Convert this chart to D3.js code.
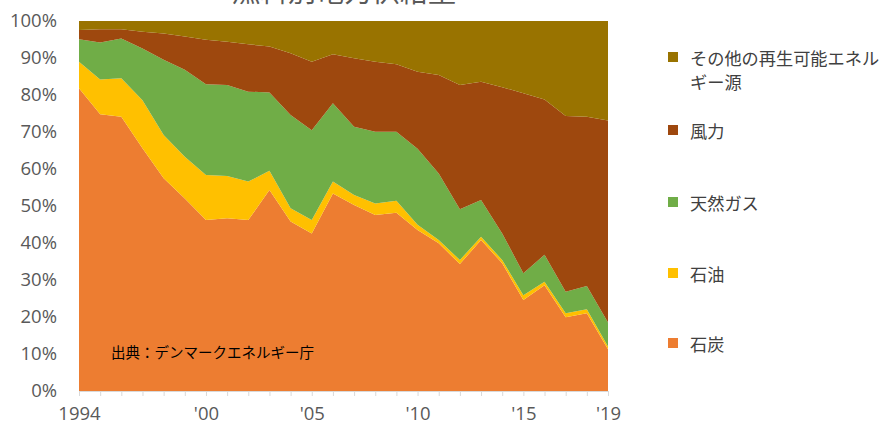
<!DOCTYPE html>
<html>
<head>
<meta charset="utf-8">
<script src="https://cdn.jsdelivr.net/npm/d3@7"></script>
<style>
  html, body { margin: 0; padding: 0; background: #fff; }
  svg { display: block; }
</style>
</head>
<body>
<svg id="chart" width="881" height="427"></svg>
<script>
const title = "燃料別電力供給量";
const source = "出典：デンマークエネルギー庁";
const years = [1994,1995,1996,1997,1998,1999,2000,2001,2002,2003,2004,2005,2006,2007,2008,2009,2010,2011,2012,2013,2014,2015,2016,2017,2018,2019];
const coal  = [81.8,74.8,74.1,65.6,57.5,52.0,46.2,46.7,46.2,54.3,45.8,42.6,53.4,50.3,47.6,48.2,43.5,39.9,34.3,40.8,34.5,24.6,28.6,19.9,21.0,11.3];
const oil   = [7.2,9.4,10.4,13.0,11.7,11.3,12.2,11.4,10.4,5.2,3.6,3.6,3.2,2.7,3.1,3.2,1.4,0.9,1.1,0.9,0.9,1.3,0.9,1.1,1.1,0.7];
const gas   = [6.1,10.0,10.8,14.0,20.3,23.5,24.5,24.6,24.3,21.2,25.2,24.3,21.2,18.4,19.4,18.7,20.6,18.0,13.7,9.9,7.2,5.9,7.3,5.8,6.3,6.5];
const wind  = [2.5,3.6,2.5,4.5,7.1,9.0,12.0,11.7,12.8,12.4,16.7,18.5,13.2,18.5,18.9,18.2,20.8,26.6,33.6,32.0,39.5,48.7,42.0,47.5,45.7,54.6];
const other = [2.4,2.2,2.2,2.9,3.4,4.2,5.1,5.6,6.3,6.9,8.7,11.0,9.0,10.1,11.0,11.7,13.7,14.6,17.3,16.4,17.9,19.5,21.2,25.7,25.9,26.9];
const seriesKeys = ["coal","oil","gas","wind","other"];
const seriesNames = ["石炭","石油","天然ガス","風力","その他の再生可能エネルギー源"];
const seriesColors = ["#ED7D31","#FFC000","#70AD47","#9E480E","#997300"];
const yTicks = [0,10,20,30,40,50,60,70,80,90,100];
const xLabelYears = [1994,2000,2005,2010,2015,2019];
const xLabels = ["1994","'00","'05","'10","'15","'19"];
const legendOrder = ["other","wind","gas","oil","coal"];
const legendLines = {other:["その他の再生可能エネル","ギー源"], wind:["風力"], gas:["天然ガス"], oil:["石油"], coal:["石炭"]};

const vals = {coal, oil, gas, wind, other};
const rows = years.map((y,i) => {
  const r = {year: y};
  seriesKeys.forEach(k => r[k] = vals[k][i]);
  return r;
});

const svg = d3.select("#chart");
const m = {left: 79, right: 273, top: 21, bottom: 36};
const W = 881, H = 427;
const x = d3.scaleLinear().domain([1994, 2019]).range([m.left, W - m.right]);
const y = d3.scaleLinear().domain([0, 100]).range([H - m.bottom, m.top]);

const stack = d3.stack().keys(seriesKeys);
const layers = stack(rows);
const area = d3.area()
  .x(d => x(d.data.year))
  .y0(d => y(d[0]))
  .y1(d => y(d[1]));

svg.append("g").selectAll("path").data(layers).join("path")
  .attr("d", area)
  .attr("fill", (d,i) => seriesColors[i]);

// title (cut off at top, as in the reference)
svg.append("text")
  .attr("x", 344).attr("y", 2)
  .attr("text-anchor", "middle")
  .attr("font-family", "'Noto Sans CJK JP', sans-serif")
  .attr("font-size", 28)
  .attr("fill", "#595959")
  .text(title);

// y axis labels
const yAxis = d3.axisLeft(y).tickValues(yTicks).tickFormat(d => d + "%").tickSize(0).tickPadding(22);
const gy = svg.append("g").attr("transform", `translate(${m.left},0)`).call(yAxis);
gy.select(".domain").remove();
gy.selectAll("text")
  .attr("font-family", "'Open Sans', sans-serif")
  .attr("font-size", 18.5)
  .attr("fill", "#595959");

// x axis
const xAxis = d3.axisBottom(x).tickValues(years).tickSize(5).tickSizeOuter(0).tickFormat("");
const gx = svg.append("g").attr("transform", `translate(0,${y(0)})`).call(xAxis);
gx.select(".domain").attr("stroke", "#d9d9d9");
gx.selectAll(".tick line").attr("stroke", "#d9d9d9");

const xAxis2 = d3.axisBottom(x).tickValues(xLabelYears).tickSize(0).tickPadding(16)
  .tickFormat(d => xLabels[xLabelYears.indexOf(d)]);
const gx2 = svg.append("g").attr("transform", `translate(0,${y(0)})`).call(xAxis2);
gx2.select(".domain").remove();
gx2.selectAll("text")
  .attr("font-family", "'Open Sans', sans-serif")
  .attr("font-size", 18.5)
  .attr("fill", "#595959");

// source note
svg.append("text")
  .attr("x", 111).attr("y", 358)
  .attr("font-family", "'Noto Sans CJK JP', sans-serif")
  .attr("font-size", 14.5)
  .attr("fill", "#000")
  .text(source);

// legend
const legendY = {other: 57, wind: 130, gas: 202, oil: 273, coal: 343};
const lg = svg.append("g");
legendOrder.forEach(k => {
  const i = seriesKeys.indexOf(k);
  const cy = legendY[k];
  lg.append("rect")
    .attr("x", 668).attr("y", cy - 5).attr("width", 10).attr("height", 10)
    .attr("fill", seriesColors[i]);
  const t = lg.append("text")
    .attr("x", 690).attr("y", cy)
    .attr("dominant-baseline", "central")
    .attr("font-family", "'Noto Sans CJK JP', sans-serif")
    .attr("font-size", 17.2)
    .attr("fill", "#404040");
  legendLines[k].forEach((line, j) => {
    t.append("tspan").attr("x", 690).attr("dy", j === 0 ? 0 : 23.5).text(line);
  });
});
</script>
</body>
</html>
